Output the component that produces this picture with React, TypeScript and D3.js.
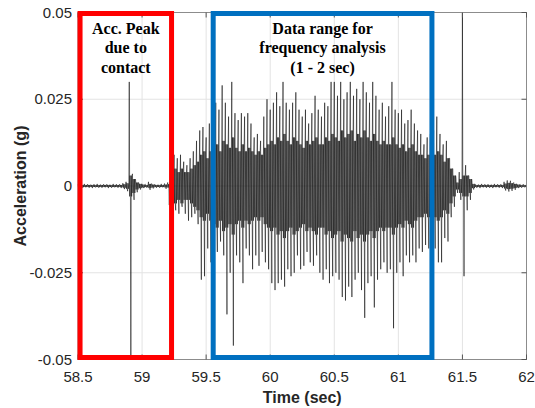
import * as d3 from "d3";

// acceleration envelope per 0.025 s bin, in milli-g
const binStart = 58.5;
const binWidth = 0.025;

const peakHi = [
  // 58.500 - 59.175
  0.5, 0.4, 0.6, 0.5, 0.4, 0.5, 0.6, 0.4, 0.5, 0.5, 0.4, 0.6, 0.5, 0.5, 0.8, 1.2,
  30, 3.5, 1.5, 0.9, 0.6, 0.5, 1.2, 0.7, 0.5, 0.4, 0.6, 0.7,
  // 59.200 - 59.975
  1, 6, 9, 8, 9, 7, 6, 8, 10, 13, 16, 17, 14, 18, 19, 24, 22, 29, 24, 20, 30, 21, 19, 21, 20, 21, 18, 14, 15, 13, 20, 25,
  // 60.000 - 60.775
  22, 24, 27, 23, 30, 24, 22, 24, 27, 22, 20, 22, 18, 21, 26, 22, 20, 24, 23, 30, 30, 26, 30, 25, 27, 30, 26, 28, 25, 30, 27, 24,
  // 60.800 - 61.575
  30, 26, 22, 24, 20, 23, 30, 22, 21, 22, 18, 19, 22, 18, 16, 15, 12, 14, 15, 16, 20, 15, 12, 13, 8, 5, 2, 4, 50, 6, 3, 1,
  // 61.600 - 61.975
  0.5, 0.4, 0.6, 0.5, 0.5, 0.4, 0.6, 0.5, 0.5, 1.2, 1.6, 1.5, 1.0, 0.6, 0.5, 0.5,
];

const peakLo = [
  // 58.500 - 59.175
  -0.5, -0.5, -0.4, -0.5, -0.6, -0.4, -0.5, -0.5, -0.4, -0.6, -0.5, -0.4, -0.5, -0.6, -0.9, -1.5,
  -50, -4, -1.8, -1, -0.6, -0.5, -1.1, -0.7, -0.5, -0.5, -0.4, -0.8,
  // 59.200 - 59.975
  -5.5, -6, -7, -8, -6, -8, -10, -9, -8, -11, -27, -26, -18, -22, -15, -19, -16, -20, -37, -25, -46, -20, -22, -28, -18, -20, -24, -20, -23, -19, -22, -24,
  // 60.000 - 60.775
  -28, -30, -28, -27, -29, -24, -26, -25, -20, -24, -23, -19, -22, -23, -20, -25, -27, -24, -28, -26, -25, -27, -32, -33, -29, -32, -27, -25, -30, -38, -28, -26,
  // 60.800 - 61.575
  -35, -27, -24, -22, -25, -24, -41, -25, -22, -26, -20, -22, -20, -22, -18, -19, -17, -18, -17, -18, -22, -22, -15, -16, -9, -6, -2, -4, -26, -7, -4, -1,
  // 61.600 - 61.975
  -0.5, -0.6, -0.4, -0.5, -0.5, -0.6, -0.4, -0.5, -0.6, -1.3, -1.6, -1.4, -1.1, -0.6, -0.5, -0.4,
];

// amplitude of the dense black core per 0.025 s bin, milli-g
const coreAmp = [
  // 58.500 - 59.175
  0.3, 0.3, 0.3, 0.3, 0.3, 0.3, 0.3, 0.3, 0.3, 0.3, 0.3, 0.3, 0.3, 0.3, 0.5, 0.8,
  3, 2, 1, 0.6, 0.4, 0.3, 0.6, 0.4, 0.3, 0.3, 0.3, 0.4,
  // 59.200 - 59.975
  0.5, 4, 5, 4, 5, 4, 4, 5, 6, 7, 9, 10, 8, 10, 11, 12, 10, 13, 12, 11, 14, 11, 10, 12, 10, 11, 10, 9, 10, 9, 11, 12,
  // 60.000 - 60.775
  13, 12, 14, 13, 15, 13, 12, 14, 13, 12, 11, 13, 12, 13, 14, 12, 12, 14, 13, 15, 14, 13, 16, 14, 15, 16, 13, 15, 14, 16, 14, 13,
  // 60.800 - 61.575
  15, 13, 12, 13, 12, 12, 14, 12, 11, 12, 10, 11, 12, 10, 9, 9, 8, 9, 9, 9, 10, 9, 7, 8, 5, 3, 1, 2, 3, 3, 2, 0.6,
  // 61.600 - 61.975
  0.3, 0.3, 0.3, 0.3, 0.3, 0.3, 0.3, 0.3, 0.3, 0.7, 0.9, 0.8, 0.6, 0.4, 0.3, 0.3,
];

const xTicks = [58.5, 59, 59.5, 60, 60.5, 61, 61.5, 62];
const yTicks = [-0.05, -0.025, 0, 0.025, 0.05];

const notes = [
  { lines: ["Acc. Peak", "due to", "contact"], x0: 58.516, x1: 59.23, color: "#ff0000" },
  { lines: ["Data range for", "frequency analysis", "(1 - 2 sec)"], x0: 59.555, x1: 61.262, color: "#0070c0" },
];

export default function App() {
  const width = 535;
  const height = 408;
  const margin = { top: 12.5, right: 8.5, bottom: 48.5, left: 78 };
  const innerW = width - margin.left - margin.right;
  const innerH = height - margin.top - margin.bottom;

  const x = d3.scaleLinear().domain([58.5, 62]).range([0, innerW]);
  const y = d3.scaleLinear().domain([-0.05, 0.05]).range([innerH, 0]);

  // zig-zag trace through each bin: peak, core swings, trough, core swings
  const pts: [number, number][] = [];
  peakHi.forEach((hi, i) => {
    const t = binStart + i * binWidth;
    const c = coreAmp[i];
    const seq = [hi, -c, c, -c, peakLo[i], c, -c, c];
    seq.forEach((v, k) => pts.push([t + (k * binWidth) / seq.length, v / 1000]));
  });
  const line = d3
    .line<[number, number]>()
    .x((d) => x(d[0]))
    .y((d) => y(Math.max(-0.05, Math.min(0.05, d[1]))));

  const tickFmt = (v: number) => (v === 0 ? "0" : String(v));
  const sans = "Liberation Sans, Arial, sans-serif";

  return (
    <svg width={width} height={height} style={{ position: "absolute", left: 0, top: 0, background: "#fff" }}>
      <g transform={`translate(${margin.left},${margin.top})`}>
        {xTicks.map((t) => (
          <line key={`gx${t}`} x1={x(t)} x2={x(t)} y1={0} y2={innerH} stroke="#e3e3e3" />
        ))}
        {yTicks.map((t) => (
          <line key={`gy${t}`} x1={0} x2={innerW} y1={y(t)} y2={y(t)} stroke="#e3e3e3" />
        ))}

        <path d={line(pts) ?? ""} fill="none" stroke="#000" strokeWidth={0.6} strokeOpacity={0.9} />

        <rect x={0} y={0} width={innerW} height={innerH} fill="none" stroke="#8c8c8c" />
        {xTicks.map((t) => (
          <g key={`tx${t}`}>
            <line x1={x(t)} x2={x(t)} y1={innerH} y2={innerH - 5} stroke="#555" />
            <line x1={x(t)} x2={x(t)} y1={0} y2={5} stroke="#555" />
            <text x={x(t)} y={innerH + 22} textAnchor="middle" fontFamily={sans} fontSize={15} fill="#262626">
              {tickFmt(t)}
            </text>
          </g>
        ))}
        {yTicks.map((t) => (
          <g key={`ty${t}`}>
            <line x1={0} x2={5} y1={y(t)} y2={y(t)} stroke="#555" />
            <line x1={innerW} x2={innerW - 5} y1={y(t)} y2={y(t)} stroke="#555" />
            <text x={-6} y={y(t) + 5} textAnchor="end" fontFamily={sans} fontSize={15} fill="#262626">
              {tickFmt(t)}
            </text>
          </g>
        ))}

        {notes.map((n) => (
          <g key={n.lines[0]}>
            <rect
              x={x(n.x0)}
              y={1}
              width={x(n.x1) - x(n.x0)}
              height={innerH - 3}
              fill="none"
              stroke={n.color}
              strokeWidth={5}
            />
            {n.lines.map((s, k) => (
              <text
                key={s}
                x={(x(n.x0) + x(n.x1)) / 2}
                y={21 + k * 19.5}
                textAnchor="middle"
                fontFamily="Liberation Serif, Times New Roman, serif"
                fontWeight="bold"
                fontSize={16}
                fill="#000"
              >
                {s}
              </text>
            ))}
          </g>
        ))}

        <text
          x={innerW / 2}
          y={innerH + 43}
          textAnchor="middle"
          fontFamily={sans}
          fontWeight="bold"
          fontSize={16}
          fill="#262626"
        >
          Time (sec)
        </text>
        <text
          transform={`translate(${-52},${innerH / 2}) rotate(-90)`}
          textAnchor="middle"
          fontFamily={sans}
          fontWeight="bold"
          fontSize={16}
          fill="#262626"
        >
          Acceleration (g)
        </text>
      </g>
    </svg>
  );
}
